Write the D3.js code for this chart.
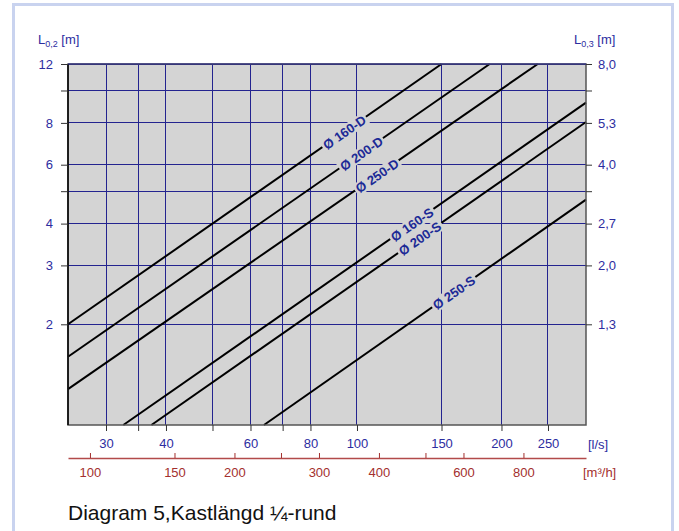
<!DOCTYPE html>
<html>
<head>
<meta charset="utf-8">
<script src="https://cdn.jsdelivr.net/npm/d3@7"></script>
<style>
  body { margin: 0; background: #fff; }
  svg { display: block; font-family: 'Liberation Sans', Arial, sans-serif; }
  .tick text { fill: #2d2d9f; font-size: 13px; }
  .m3h .tick text { fill: #a3302e; }
</style>
</head>
<body>
<svg width="679" height="531"></svg>
<script>
// flow [l/s] ticks and labels
const qTicks = [30, 35, 40, 50, 60, 70, 80, 100, 150, 200, 250]
const qLabels = [30, 40, 60, 80, 100, 150, 200, 250]
// flow [m3/h] ticks and labels
const m3hTicks = [100, 150, 200, 250, 300, 400, 500, 600, 800]
const m3hLabels = [100, 150, 200, 300, 400, 600, 800]
// throw length L0,2 [m] and the matching L0,3 labels on the right
const lTicks = [2, 3, 4, 5, 6, 8, 10, 12]
const lLabels = [2, 3, 4, 6, 8, 12]
const l03Labels = ['1,3', '2,0', '2,7', '4,0', '5,3', '8,0']

// lines: [l/s, L0,2] end points
const seriesNames = ['Ø 160-D', 'Ø 200-D', 'Ø 250-D', 'Ø 160-S', 'Ø 200-S', 'Ø 250-S']
const seriesPoints = [
  [[25, 2.0], [150, 12]],
  [[25, 1.6], [189, 12]],
  [[25, 1.28], [238, 12]],
  [[32.6, 1], [300, 9.2]],
  [[37.3, 1], [300, 8.05]],
  [[64, 1], [300, 4.72]],
]
// where along each line (l/s) its label sits
const labelAt = [94, 102, 110, 130, 135, 159]

const plot = { left: 68, top: 64, right: 586, bottom: 425 }
const svg = d3.select('svg')

// outer frame
svg.append('rect')
  .attr('x', 13.5).attr('y', 4.5)
  .attr('width', 659).attr('height', 600)
  .attr('fill', '#fff')
  .attr('stroke', '#c9d3ef')
  .attr('stroke-width', 3)

const x = d3.scaleLog([25, 300], [plot.left, plot.right])
const xm = d3.scaleLog([25 * 3.6, 300 * 3.6], [plot.left, plot.right])
const y = d3.scaleLog([1, 12], [plot.bottom, plot.top])

svg.append('rect')
  .attr('x', plot.left).attr('y', plot.top)
  .attr('width', plot.right - plot.left).attr('height', plot.bottom - plot.top)
  .attr('fill', '#d4d4d4')

// grid
const grid = svg.append('g')
  .attr('stroke', '#23238f')
  .attr('stroke-width', 1)
  .attr('shape-rendering', 'crispEdges')
grid.selectAll('.v')
  .data(qTicks)
  .join('line')
  .attr('x1', d => x(d)).attr('x2', d => x(d))
  .attr('y1', plot.top).attr('y2', plot.bottom)
grid.selectAll('.h')
  .data(lTicks)
  .join('line')
  .attr('y1', d => y(d)).attr('y2', d => y(d))
  .attr('x1', plot.left).attr('x2', plot.right)

// lines
const line = d3.line()
  .x(d => x(d[0]))
  .y(d => y(d[1]))
svg.append('g')
  .selectAll('path')
  .data(seriesPoints)
  .join('path')
  .attr('d', line)
  .attr('fill', 'none')
  .attr('stroke', '#000')
  .attr('stroke-width', 2)

// line labels
seriesPoints.forEach((pts, i) => {
  const [[q0, l0], [q1, l1]] = pts
  const t = Math.log(labelAt[i] / q0) / Math.log(q1 / q0)
  const l = Math.exp(Math.log(l0) + t * (Math.log(l1) - Math.log(l0)))
  const angle = Math.atan2(y(l1) - y(l0), x(q1) - x(q0)) * 180 / Math.PI
  const g = svg.append('g')
    .attr('transform', `translate(${ x(labelAt[i]) },${ y(l) }) rotate(${ angle })`)
  const bg = g.append('rect').attr('fill', '#d4d4d4')
  const txt = g.append('text')
    .attr('text-anchor', 'middle')
    .attr('dy', '0.4em')
    .attr('font-size', 13)
    .attr('font-weight', 'bold')
    .attr('fill', '#1c2a96')
    .text(seriesNames[i])
  const b = txt.node().getBBox()
  bg.attr('x', b.x - 2).attr('y', b.y + 1).attr('width', b.width + 4).attr('height', b.height - 2)
})

// frame of the plot
svg.append('rect')
  .attr('x', plot.left).attr('y', plot.top)
  .attr('width', plot.right - plot.left).attr('height', plot.bottom - plot.top)
  .attr('fill', 'none')
  .attr('stroke', '#555')
  .attr('stroke-width', 1.5)
svg.append('line')
  .attr('x1', plot.left).attr('x2', plot.left)
  .attr('y1', plot.top).attr('y2', plot.bottom)
  .attr('stroke', '#000')
  .attr('stroke-width', 1.5)
svg.append('line')
  .attr('x1', plot.left).attr('x2', plot.right)
  .attr('y1', plot.top).attr('y2', plot.top)
  .attr('stroke', '#23238f')

// axes
const yAxisL = d3.axisLeft(y)
  .tickValues(lTicks)
  .tickFormat(d => lLabels.includes(d) ? d : '')
  .tickSizeInner(7).tickSizeOuter(0).tickPadding(8)
svg.append('g')
  .attr('transform', `translate(${ plot.left },0)`)
  .call(yAxisL)

const yAxisR = d3.axisRight(y)
  .tickValues(lTicks)
  .tickFormat(d => lLabels.includes(d) ? l03Labels[lLabels.indexOf(d)] : '')
  .tickSizeInner(6).tickSizeOuter(0).tickPadding(6)
svg.append('g')
  .attr('transform', `translate(${ plot.right },0)`)
  .call(yAxisR)

const xAxis = d3.axisBottom(x)
  .tickValues(qTicks)
  .tickFormat(d => qLabels.includes(d) ? d : '')
  .tickSizeInner(6).tickSizeOuter(0).tickPadding(8)
svg.append('g')
  .attr('transform', `translate(0,${ plot.bottom })`)
  .call(xAxis)

const mAxis = d3.axisBottom(xm)
  .tickValues(m3hTicks)
  .tickFormat(d => m3hLabels.includes(d) ? d : '')
  .tickSizeInner(-5).tickSizeOuter(0).tickPadding(10)
svg.append('g')
  .classed('m3h', true)
  .attr('transform', `translate(0,458)`)
  .call(mAxis)

svg.selectAll('.domain').attr('stroke', 'none')
svg.selectAll('.tick line').attr('stroke', '#333')
svg.selectAll('.m3h .tick line').attr('stroke', '#a3302e')
svg.select('.m3h .domain')
  .attr('stroke', '#b24a4a')
  .attr('stroke-width', 1.5)

// axis titles
const yTitle = (xPos, sub) => {
  const t = svg.append('text')
    .attr('x', xPos).attr('y', 44)
    .attr('font-size', 13)
    .attr('fill', '#2d2d9f')
  t.append('tspan').text('L')
  t.append('tspan').attr('font-size', 9).attr('dy', 3).text(sub)
  t.append('tspan').attr('dy', -3).text(' [m]')
}
yTitle(38, '0,2')
yTitle(574, '0,3')

svg.append('text')
  .attr('x', 588).attr('y', 448.5)
  .attr('font-size', 13)
  .attr('fill', '#2d2d9f')
  .text('[l/s]')
svg.append('text')
  .attr('x', 583).attr('y', 476.5)
  .attr('font-size', 13)
  .attr('fill', '#a3302e')
  .text('[m³/h]')

svg.append('text')
  .attr('x', 68).attr('y', 519.5)
  .attr('font-size', 21)
  .attr('fill', '#111')
  .text('Diagram 5,Kastlängd ¼-rund')
</script>
</body>
</html>
